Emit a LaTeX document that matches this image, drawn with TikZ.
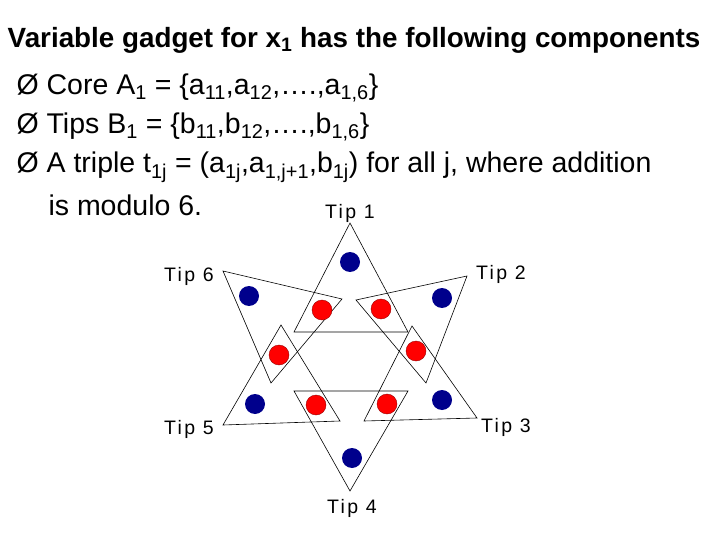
\documentclass[tikz,border=0pt]{standalone}
\usepackage{fontspec}
\setmainfont{Liberation Sans}
\begin{document}
\begin{tikzpicture}[x=1pt,y=-1pt,
  tri/.style={draw=black,line width=0.6pt},
  bd/.style={circle,fill=blue!55!black,minimum size=20pt,inner sep=0pt},
  rd/.style={circle,fill=red,draw=red!60!black,line width=0.4pt,minimum size=20pt,inner sep=0pt},
  tip/.style={font=\fontsize{19.5}{20}\selectfont\addfontfeature{LetterSpace=12}},
  bl/.style={anchor=west,font=\fontsize{28.5}{30}\selectfont}]
\useasboundingbox (0,0) rectangle (720,540);
\node[anchor=center,font=\bfseries\fontsize{27.8}{30}\selectfont] (title) at (354,40) {Variable gadget for x\textsubscript{1} has the following components};
\node[bl] (b1) at (13,88) {Ø Core A\textsubscript{1} = \{a\textsubscript{11},a\textsubscript{12},\dots.,a\textsubscript{1,6}\}};
\node[bl] (b2) at (13,127) {Ø Tips B\textsubscript{1} = \{b\textsubscript{11},b\textsubscript{12},\dots.,b\textsubscript{1,6}\}};
\node[bl] (b3) at (13,167) {Ø A triple t\textsubscript{1j} = (a\textsubscript{1j},a\textsubscript{1,j+1},b\textsubscript{1j}) for all j, where addition};
\node[bl] (b4) at (45,205) {is modulo 6.};
% triangles
\draw[tri] (350,223)--(294,332)--(408,332)--cycle;
\draw[tri] (223,271)--(342,299)--(271,383)--cycle;
\draw[tri] (467,276)--(356,300)--(426,383)--cycle;
\draw[tri] (281,325)--(223,425)--(340,421)--cycle;
\draw[tri] (412,326)--(477,418)--(364,421)--cycle;
\draw[tri] (294,391)--(408,391)--(350,491)--cycle;
% dots
\node[bd] (p1) at (350,262) {};
\node[bd] (p6) at (249,296) {};
\node[bd] (p2) at (442,298) {};
\node[bd] (p5) at (255,404) {};
\node[bd] (p3) at (442,400) {};
\node[bd] (p4) at (352,458) {};
\node[rd] (r1) at (322,310) {};
\node[rd] (r2) at (381,309) {};
\node[rd] (r3) at (279,355) {};
\node[rd] (r4) at (416,351) {};
\node[rd] (r5) at (316,405) {};
\node[rd] (r6) at (387,404) {};
% tips
\node[tip] (t1) at (350,213) {Tip 1};
\node[tip] (t6) at (189,276) {Tip 6};
\node[tip] (t2) at (501,274) {Tip 2};
\node[tip] (t5) at (189,429) {Tip 5};
\node[tip] (t3) at (506,427) {Tip 3};
\node[tip] (t4) at (352,508) {Tip 4};
\end{tikzpicture}
\end{document}
